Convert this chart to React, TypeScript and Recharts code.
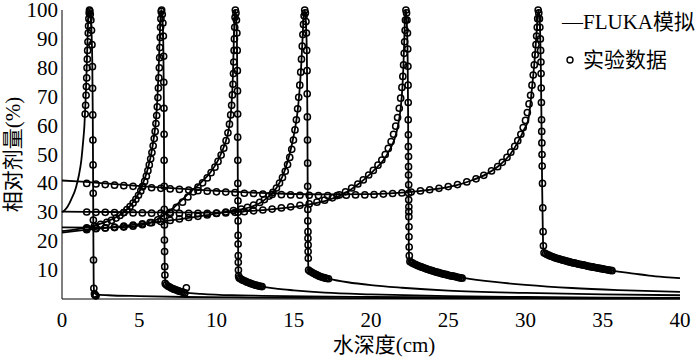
import { ComposedChart, Legend, Line, Scatter, XAxis, YAxis } from "recharts";

type Pair = [number, number];

const xTicks = [0, 5, 10, 15, 20, 25, 30, 35, 40];
const yTicks = [10, 20, 30, 40, 50, 60, 70, 80, 90, 100];

// FLUKA simulation curves (depth cm, relative dose %)
const fluka1: Pair[] = [
  [0, 30], [0.3, 31.5], [0.6, 34.5], [0.9, 38.5], [1.1, 43], [1.25, 48], [1.36, 54], [1.45, 60],
  [1.52, 68], [1.58, 77], [1.63, 86], [1.67, 93], [1.71, 98], [1.75, 100], [1.8, 99.5], [1.86, 97],
  [1.92, 91], [1.96, 82], [1.99, 65], [2.01, 45], [2.03, 22], [2.05, 6], [2.08, 2.5], [2.2, 1.6],
  [3, 1.3], [5, 1.0], [8, 0.7], [12, 0.5], [20, 0.3], [30, 0.2], [40, 0.1],
];
const fluka2: Pair[] = [
  [0, 23.5], [1, 24.2], [2, 25.3], [2.8, 26.6], [3.5, 28.3], [4, 30], [4.5, 32.8], [4.9, 36],
  [5.2, 39.5], [5.5, 44], [5.75, 49.5], [5.95, 56], [6.08, 62], [6.18, 70], [6.26, 80], [6.32, 90],
  [6.37, 97], [6.41, 100], [6.46, 99], [6.52, 95], [6.56, 87], [6.59, 70], [6.61, 45], [6.63, 22],
  [6.66, 8], [6.72, 5.2], [6.9, 4.4], [7.2, 3.6], [7.6, 2.8], [8, 2.2], [9, 1.8], [11, 1.3],
  [13, 1.1], [20, 0.7], [30, 0.4], [40, 0.3],
];
const fluka3: Pair[] = [
  [0, 24.8], [2, 24.7], [4, 24.9], [5, 25.4], [5.8, 26.6], [6.5, 28.6], [7.2, 31.5], [7.8, 34.5],
  [8.4, 37.5], [9, 40.3], [9.6, 43.8], [10.1, 48], [10.5, 53], [10.8, 59], [10.97, 67], [11.06, 77],
  [11.11, 87], [11.15, 95], [11.19, 100], [11.24, 99], [11.29, 95], [11.33, 86], [11.36, 65],
  [11.38, 40], [11.4, 18], [11.42, 9], [11.48, 7.5], [11.7, 6.6], [12, 5.9], [12.5, 5], [13, 4.3],
  [14, 3.5], [15, 3], [17, 2.2], [20, 1.6], [25, 1.0], [30, 0.7], [35, 0.5], [40, 0.4],
];
const fluka4: Pair[] = [
  [0, 23], [1.5, 23.9], [3, 24.7], [5, 25.9], [7, 27.2], [9, 28.7], [10.6, 30.1], [11.6, 31],
  [12.3, 32], [12.9, 33.5], [13.4, 35.6], [13.8, 37.8], [14.15, 41], [14.45, 45], [14.7, 49.5],
  [14.9, 54], [15.1, 59.5], [15.25, 65], [15.38, 72.5], [15.48, 80.5], [15.56, 89], [15.62, 96],
  [15.68, 100], [15.74, 99], [15.8, 94], [15.85, 84], [15.88, 65], [15.9, 40], [15.92, 20],
  [15.94, 11.5], [15.98, 10], [16.3, 8.8], [16.8, 7.7], [17.3, 7.0], [18.5, 5.8], [20, 4.8],
  [22, 3.9], [25, 2.9], [30, 2.1], [35, 1.6], [40, 1.3],
];
const fluka5: Pair[] = [
  [0, 30.2], [3, 30.1], [6, 30], [9, 29.9], [10.5, 30], [12, 30.4], [13.5, 31], [15, 31.9],
  [16.2, 32.9], [17.2, 34.2], [18, 35.8], [18.7, 37.9], [19.3, 40.2], [19.8, 42.5], [20.3, 45.1],
  [20.8, 48], [21.2, 51.5], [21.5, 55], [21.75, 60], [21.92, 66], [22.03, 73], [22.1, 81],
  [22.15, 89], [22.19, 96], [22.23, 100], [22.28, 99], [22.33, 94], [22.37, 84], [22.4, 65],
  [22.42, 40], [22.44, 22], [22.47, 14], [22.6, 12.4], [23, 11.2], [24, 9.6], [25, 8.3], [26, 7.3],
  [28, 5.9], [30, 4.9], [33, 3.8], [36, 3.1], [40, 2.5],
];
const fluka6: Pair[] = [
  [0, 41], [1, 40.7], [3, 39.9], [6, 38.7], [10, 37.4], [14, 36.5], [17, 36.2], [20, 36.3],
  [22, 36.8], [24, 37.9], [25.5, 39.3], [26.5, 41], [27.5, 43.3], [28.3, 46.2], [29, 50],
  [29.5, 54.2], [29.9, 58.5], [30.2, 62.5], [30.42, 73], [30.58, 82], [30.69, 90], [30.77, 96.5],
  [30.83, 100], [30.89, 98.5], [30.95, 92], [31, 78], [31.04, 58], [31.08, 38], [31.12, 24],
  [31.15, 17.5], [31.25, 15.8], [31.6, 14.8], [32, 14.1], [33, 12.6], [34, 11.4], [35, 10.4],
  [36, 9.5], [37, 8.8], [38, 8.1], [39, 7.6], [40, 7.2],
];

// measured data
const exp1: Pair[] = [
  [1.5, 64], [1.53, 67], [1.56, 70.5], [1.58, 73.5], [1.6, 76.5], [1.62, 80], [1.64, 83], [1.66, 86],
  [1.68, 89], [1.7, 92], [1.72, 94.5], [1.74, 97], [1.76, 99], [1.78, 100], [1.8, 99.6], [1.83, 98.5],
  [1.87, 96.5], [1.91, 93], [1.94, 88], [1.97, 80.4], [1.98, 72.9], [1.99, 63.7], [2.0, 55],
  [2.01, 46.4], [2.02, 36.6], [2.03, 27.3], [2.04, 13.5], [2.06, 3.7], [2.1, 1.8], [2.13, 1.4],
  [2.17, 1.2], [2.2, 1.1],
];
const exp2: Pair[] = [
  [1.6, 24.6], [2.1, 25.2], [2.5, 25.8], [2.9, 26.5], [3.2, 27.2], [3.5, 28], [3.75, 28.9], [4.0, 29.9],
  [4.2, 30.9], [4.4, 32], [4.6, 33.2], [4.78, 34.5], [4.95, 35.9], [5.1, 37.4], [5.23, 39], [5.35, 40.7],
  [5.46, 42.5], [5.56, 44.4], [5.65, 46.4], [5.74, 48.5], [5.82, 50.7], [5.9, 53], [5.97, 55.5],
  [6.03, 58], [6.08, 60.7], [6.13, 63.5], [6.17, 66.5], [6.21, 69.7], [6.24, 73], [6.27, 76.5],
  [6.3, 80], [6.32, 83.5], [6.34, 87], [6.36, 90.5], [6.38, 94], [6.4, 97], [6.42, 99.5], [6.45, 100],
  [6.49, 98.5], [6.53, 95.5], [6.56, 91], [6.58, 84], [6.59, 75], [6.6, 66], [6.61, 57], [6.61, 48],
  [6.62, 39], [6.62, 31], [6.63, 25.6], [6.63, 20.4], [6.64, 16.4], [6.65, 11.2], [6.66, 8.3],
  [6.68, 5.4], [6.75, 4.9], [6.85, 4.5], [6.95, 4.2], [7.05, 3.9], [7.15, 3.6], [7.25, 3.4],
  [7.35, 3.2], [7.45, 3.0], [7.55, 2.8], [7.65, 2.6], [7.75, 2.5], [7.85, 2.3], [7.95, 2.1], [8.05, 3.9],
];
const exp3: Pair[] = [
  [1.6, 24.4], [2.2, 24.5], [2.8, 24.6], [3.4, 24.7], [4.0, 24.9], [4.6, 25.2], [5.2, 25.7], [5.7, 26.4],
  [6.2, 27.4], [6.6, 28.6], [7.0, 30], [7.4, 31.7], [7.8, 33.5], [8.15, 35.3], [8.5, 37.1], [8.8, 38.7],
  [9.1, 40.2], [9.4, 41.9], [9.65, 43.7], [9.9, 45.6], [10.1, 47.6], [10.3, 49.8], [10.47, 52.2],
  [10.62, 54.8], [10.74, 57.5], [10.84, 60.5], [10.92, 63.7], [10.98, 67], [11.03, 70.6], [11.07, 74.3],
  [11.1, 78], [11.12, 82], [11.14, 86], [11.16, 90], [11.18, 94], [11.2, 97.5], [11.22, 100],
  [11.26, 99], [11.29, 96.5], [11.32, 92], [11.34, 86], [11.35, 79], [11.36, 72], [11.37, 64],
  [11.37, 56], [11.38, 48], [11.38, 40], [11.39, 34], [11.39, 30], [11.4, 27], [11.4, 22], [11.4, 19],
  [11.41, 15], [11.41, 12.7], [11.42, 10], [11.43, 8], [11.47, 7.3], [11.55, 7.0], [11.65, 6.7],
  [11.75, 6.4], [11.85, 6.2], [11.95, 5.9], [12.05, 5.7], [12.15, 5.5], [12.25, 5.3], [12.35, 5.1],
  [12.45, 4.9], [12.55, 4.8], [12.65, 4.6], [12.75, 4.5], [12.85, 4.4], [12.95, 4.3],
];
const exp4: Pair[] = [
  [1.6, 24], [2.2, 24.3], [2.8, 24.6], [3.4, 24.9], [4.0, 25.2], [4.6, 25.6], [5.2, 26], [5.8, 26.4],
  [6.4, 26.8], [7.0, 27.2], [7.6, 27.7], [8.2, 28.2], [8.8, 28.6], [9.4, 29.1], [10.0, 29.6],
  [10.6, 30.1], [11.1, 30.6], [11.6, 31.1], [12.0, 31.7], [12.4, 32.5], [12.8, 33.4], [13.1, 34.4],
  [13.4, 35.6], [13.65, 36.9], [13.88, 38.4], [14.08, 40.1], [14.27, 42], [14.45, 44.2], [14.6, 46.5],
  [14.74, 49], [14.87, 51.8], [14.98, 55], [15.08, 58.5], [15.17, 62], [15.25, 65.8], [15.32, 69.8],
  [15.39, 74], [15.45, 78.5], [15.5, 83], [15.55, 87.5], [15.59, 91.5], [15.63, 95], [15.67, 98],
  [15.71, 100], [15.75, 99], [15.79, 96], [15.82, 92], [15.84, 86], [15.86, 79], [15.87, 71],
  [15.88, 63], [15.89, 55], [15.9, 47], [15.9, 39], [15.91, 31], [15.91, 27], [15.92, 23.3],
  [15.92, 21], [15.93, 18.7], [15.93, 16.4], [15.94, 14.1], [15.96, 10], [16.05, 9.6], [16.15, 9.3],
  [16.25, 9.0], [16.35, 8.7], [16.45, 8.4], [16.55, 8.2], [16.65, 7.9], [16.75, 7.7], [16.85, 7.5],
  [16.95, 7.4], [17.05, 7.2], [17.15, 7.1], [17.25, 7.0],
];
const exp5: Pair[] = [
  [1.6, 30.1], [2.2, 30], [2.8, 30], [3.4, 29.9], [4.0, 29.9], [4.6, 29.8], [5.2, 29.8], [5.8, 29.7],
  [6.4, 29.7], [7.0, 29.6], [7.6, 29.6], [8.2, 29.6], [8.8, 29.6], [9.4, 29.6], [10.0, 29.7],
  [10.6, 29.8], [11.2, 30], [11.8, 30.2], [12.4, 30.5], [13.0, 30.8], [13.6, 31.1], [14.2, 31.5],
  [14.8, 31.9], [15.4, 32.4], [16.0, 32.9], [16.5, 33.5], [17.0, 34.2], [17.5, 35], [17.95, 36],
  [18.35, 37.1], [18.75, 38.4], [19.15, 39.8], [19.5, 41.2], [19.85, 42.9], [20.15, 44.5],
  [20.45, 46.3], [20.7, 48.1], [20.92, 50], [21.12, 52.1], [21.3, 54.5], [21.46, 57], [21.6, 59.8],
  [21.72, 62.8], [21.83, 66], [21.92, 69.5], [22.0, 73.2], [22.06, 77], [22.11, 81], [22.15, 85],
  [22.18, 89], [22.21, 93], [22.23, 96.5], [22.26, 100], [22.3, 99], [22.33, 96.5], [22.36, 92],
  [22.38, 86.5], [22.39, 80.5], [22.4, 74], [22.41, 68], [22.41, 62], [22.42, 56.8], [22.42, 52.7],
  [22.43, 49.3], [22.43, 45.8], [22.43, 42.9], [22.44, 39.5], [22.44, 36.6], [22.44, 34.3],
  [22.45, 31.9], [22.45, 30.2], [22.45, 28.5], [22.46, 25], [22.46, 21.5], [22.47, 18], [22.48, 15],
  [22.52, 13], [22.6, 12.7], [22.7, 12.4], [22.8, 12.1], [22.9, 11.9], [23.0, 11.6], [23.1, 11.4],
  [23.2, 11.2], [23.3, 11.0], [23.4, 10.8], [23.5, 10.6], [23.6, 10.4], [23.7, 10.2], [23.8, 10.0],
  [23.9, 9.9], [24.0, 9.7], [24.1, 9.5], [24.2, 9.4], [24.3, 9.2], [24.4, 9.1], [24.5, 8.9],
  [24.6, 8.8], [24.7, 8.6], [24.8, 8.5], [24.9, 8.4], [25.0, 8.2], [25.1, 8.1], [25.2, 8.0],
  [25.3, 7.9], [25.4, 7.8], [25.5, 7.7], [25.6, 7.5], [25.7, 7.4], [25.8, 7.3], [25.9, 7.2],
];
const exp6: Pair[] = [
  [1.6, 40], [2.2, 39.8], [2.8, 39.6], [3.4, 39.4], [4.0, 39.2], [4.6, 39], [5.2, 38.8], [5.8, 38.5],
  [6.4, 38.3], [7.0, 38.1], [7.6, 37.9], [8.2, 37.7], [8.8, 37.5], [9.4, 37.3], [10.0, 37.1],
  [10.6, 37], [11.2, 36.8], [11.8, 36.6], [12.4, 36.5], [13.0, 36.3], [13.6, 36.2], [14.2, 36.1],
  [14.8, 36], [15.4, 35.9], [16.0, 35.9], [16.6, 35.8], [17.2, 35.8], [17.8, 35.8], [18.4, 35.9],
  [19.0, 36], [19.6, 36], [20.2, 36.1], [20.8, 36.3], [21.4, 36.5], [22.0, 36.7], [22.6, 37],
  [23.2, 37.4], [23.8, 37.8], [24.4, 38.3], [25.0, 38.9], [25.6, 39.6], [26.2, 40.5], [26.8, 41.6],
  [27.3, 42.8], [27.8, 44.3], [28.2, 45.8], [28.5, 47.3], [28.8, 49], [29.05, 50.8], [29.3, 52.8],
  [29.5, 54.8], [29.7, 57], [29.85, 59.3], [30.0, 61.8], [30.12, 64.5], [30.23, 67.5], [30.33, 70.5],
  [30.42, 74], [30.5, 77.5], [30.57, 81], [30.63, 84.5], [30.68, 88], [30.72, 91], [30.76, 94],
  [30.79, 97], [30.82, 100], [30.86, 99], [30.9, 97], [30.93, 94], [30.96, 90], [30.98, 86],
  [31.0, 82], [31.01, 78], [31.02, 73], [31.03, 68], [31.04, 62], [31.05, 58], [31.06, 54],
  [31.07, 50], [31.08, 46], [31.1, 40], [31.12, 31.5], [31.14, 23.3], [31.16, 18.4], [31.2, 16],
  [31.3, 15.7], [31.4, 15.4], [31.5, 15.15], [31.6, 14.9], [31.7, 14.7], [31.8, 14.5], [31.9, 14.3],
  [32.0, 14.1], [32.1, 13.95], [32.2, 13.8], [32.3, 13.65], [32.4, 13.5], [32.5, 13.35], [32.6, 13.2],
  [32.7, 13.05], [32.8, 12.9], [32.9, 12.75], [33.0, 12.6], [33.1, 12.5], [33.2, 12.4], [33.3, 12.25],
  [33.4, 12.1], [33.5, 12.0], [33.6, 11.9], [33.7, 11.8], [33.8, 11.7], [33.9, 11.55], [34.0, 11.4],
  [34.1, 11.3], [34.2, 11.2], [34.3, 11.1], [34.4, 11.0], [34.5, 10.9], [34.6, 10.8], [34.7, 10.7],
  [34.8, 10.6], [34.9, 10.5], [35.0, 10.4], [35.1, 10.3], [35.2, 10.2], [35.3, 10.1], [35.4, 10.0],
  [35.5, 9.9], [35.6, 9.8],
];

const toPoints = (rows: Pair[]) => rows.map(([x, y]) => ({ x, y }));

const simCurves = [fluka1, fluka2, fluka3, fluka4, fluka5, fluka6].map(toPoints);
const expCurves = [exp1, exp2, exp3, exp4, exp5, exp6].map(toPoints);

const FONT = "'Liberation Serif', 'Times New Roman', 'Noto Sans CJK SC', serif";

function XTick({ x, y, payload }: any) {
  return (
    <text x={x} y={y + 28} textAnchor="middle" fontFamily={FONT} fontSize={21} fill="#000">
      {payload.value}
    </text>
  );
}

function YTick({ x, y, payload }: any) {
  return (
    <text x={x - 4} y={y + 7} textAnchor="end" fontFamily={FONT} fontSize={21} fill="#000">
      {payload.value}
    </text>
  );
}

function XTitle({ viewBox }: any) {
  const { x = 62, y = 299, width = 618 } = viewBox || {};
  return (
    <text x={x + width / 2 + 13} y={y + 53} textAnchor="middle" fontFamily={FONT} fontSize={21} fill="#000">
      水深度(cm)
    </text>
  );
}

function YTitle({ viewBox }: any) {
  const { y = 10, height = 289 } = viewBox || {};
  const cx = 13;
  const cy = y + height / 2;
  return (
    <text
      x={cx}
      y={cy}
      transform={`rotate(-90, ${cx}, ${cy})`}
      textAnchor="middle"
      dominantBaseline="central"
      fontFamily={FONT}
      fontSize={21}
      fill="#000"
    >
      相对剂量(%)
    </text>
  );
}

function LegendBox() {
  return (
    <svg width={145} height={80}>
      <text x={7} y={29} fontFamily={FONT} fontSize={21} fill="#000">
        —FLUKA模拟
      </text>
      <circle cx={15} cy={60} r={3} fill="none" stroke="#000" strokeWidth={1.4} />
      <text x={28} y={67} fontFamily={FONT} fontSize={21} fill="#000">
        实验数据
      </text>
    </svg>
  );
}

const Ring = (props: any) => (
  <circle cx={props.cx} cy={props.cy} r={3.1} fill="none" stroke="#000" strokeWidth={1.5} />
);

export default function App() {
  return (
    <div style={{ position: "absolute", left: 0, top: 0, background: "#fff" }}>
      <ComposedChart width={700} height={363} margin={{ top: 10, right: 20, bottom: 30, left: 10 }}>
        <XAxis
          type="number"
          dataKey="x"
          domain={[0, 40]}
          ticks={xTicks}
          interval={0}
          tickLine={false}
          tickSize={0}
          tickMargin={0}
          height={34}
          stroke="#000"
          tick={<XTick />}
          label={<XTitle />}
        />
        <YAxis
          type="number"
          dataKey="y"
          domain={[0, 100]}
          ticks={yTicks}
          interval={0}
          tickLine={false}
          tickSize={0}
          tickMargin={0}
          width={52}
          stroke="#000"
          tick={<YTick />}
          label={<YTitle />}
        />
        {simCurves.map((d, i) => (
          <Line
            key={`sim-${i}`}
            data={d}
            dataKey="y"
            type="monotone"
            stroke="#000"
            strokeWidth={1.8}
            dot={false}
            activeDot={false}
            isAnimationActive={false}
          />
        ))}
        {expCurves.map((d, i) => (
          <Scatter key={`exp-${i}`} data={d} shape={Ring} isAnimationActive={false} />
        ))}
        <Legend
          layout="vertical"
          align="center"
          verticalAlign="middle"
          wrapperStyle={{ left: 555, top: 0, width: 145, height: 80 }}
          content={LegendBox}
        />
      </ComposedChart>
    </div>
  );
}
